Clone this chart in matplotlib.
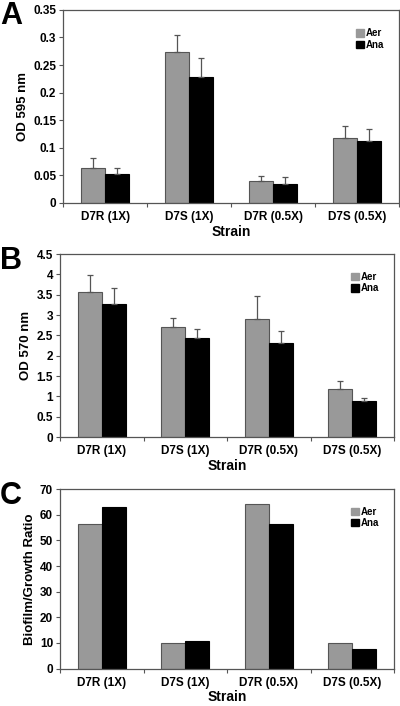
import numpy as np
import matplotlib
matplotlib.use("Agg")
import matplotlib.pyplot as plt
from matplotlib.patches import Patch

plt.rcParams['font.family'] = ['Liberation Sans', 'DejaVu Sans']
plt.rcParams['font.weight'] = 'bold'

strains = ["D7R (1X)", "D7S (1X)", "D7R (0.5X)", "D7S (0.5X)"]
series = ["Aer", "Ana"]

# panel A - OD 595 nm
a_aer = [0.064, 0.274, 0.040, 0.118]
a_ana = [0.053, 0.229, 0.035, 0.112]
a_aer_err = [0.018, 0.030, 0.009, 0.021]
a_ana_err = [0.010, 0.033, 0.012, 0.022]

# panel B - OD 570 nm
b_aer = [3.57, 2.71, 2.91, 1.18]
b_ana = [3.27, 2.43, 2.31, 0.89]
b_aer_err = [0.41, 0.23, 0.56, 0.21]
b_ana_err = [0.39, 0.22, 0.29, 0.06]

# panel C - biofilm/growth ratio
c_aer = [56.5, 10.0, 64.2, 10.0]
c_ana = [63.0, 10.8, 56.4, 7.8]

GRAY = "#999999"
EDGE = "#555555"

fig = plt.figure(figsize=(4.0, 7.06), dpi=100)

panels = [
    ("A", [0.158, 0.7125, 0.8395, 0.2735], a_aer, a_ana, a_aer_err, a_ana_err,
     "OD 595 nm", (0, 0.35), np.arange(0, 0.351, 0.05), ["0", "0.05", "0.1", "0.15", "0.2", "0.25", "0.3", "0.35"]),
    ("B", [0.15, 0.381, 0.835, 0.259], b_aer, b_ana, b_aer_err, b_ana_err,
     "OD 570 nm", (0, 4.5), np.arange(0, 4.51, 0.5), ["0", "0.5", "1", "1.5", "2", "2.5", "3", "3.5", "4", "4.5"]),
    ("C", [0.15, 0.053, 0.835, 0.254], c_aer, c_ana, None, None,
     "Biofilm/Growth Ratio", (0, 70), np.arange(0, 71, 10), [str(v) for v in range(0, 71, 10)]),
]

x = np.arange(len(strains))
w = 0.285

for letter, rect, aer, ana, aer_err, ana_err, ylabel, ylim, yt, ytl in panels:
    ax = fig.add_axes(rect)
    ax.bar(x - w / 2, aer, w, color=GRAY, edgecolor=EDGE, linewidth=0.8, label=series[0])
    ax.bar(x + w / 2, ana, w, color="black", edgecolor="black", linewidth=0.8, label=series[1])
    if aer_err is not None:
        ax.errorbar(x - w / 2, aer, yerr=[np.zeros(4), aer_err], fmt="none",
                    ecolor=EDGE, elinewidth=0.9, capsize=2, capthick=0.9)
        ax.errorbar(x + w / 2, ana, yerr=[np.zeros(4), ana_err], fmt="none",
                    ecolor=EDGE, elinewidth=0.9, capsize=2, capthick=0.9)
    ax.set_xlim(-0.5, 3.5)
    ax.set_ylim(*ylim)
    ax.set_yticks(yt)
    ax.set_yticklabels(ytl, fontsize=8.5, fontweight="bold")
    ax.set_xticks(x)
    ax.set_xticklabels(strains, fontsize=8.5, fontweight="bold")
    ax.tick_params(axis="x", length=0, pad=6)
    ax.set_xticks(np.arange(-0.5, 3.6, 1), minor=True)
    ax.tick_params(axis="x", which="minor", length=3, width=0.8, color=EDGE)
    ax.tick_params(axis="y", length=3, width=0.8, color=EDGE, pad=2)
    for s in ax.spines.values():
        s.set_color(EDGE)
        s.set_linewidth(0.9)
    ax.set_xlabel("Strain", fontsize=10, fontweight="bold", labelpad=1)
    ax.set_ylabel(ylabel, fontsize=9.5, fontweight="bold", labelpad=3)
    handles = [Patch(facecolor=GRAY, edgecolor=GRAY, label=series[0]),
               Patch(facecolor="black", edgecolor="black", label=series[1])]
    ax.legend(handles=handles, loc="upper right", bbox_to_anchor=(0.97, 0.93),
              fontsize=7, frameon=False, handlelength=0.8, handleheight=0.8,
              handletextpad=0.2, labelspacing=0.15, borderpad=0)
    fig.text(0.0, rect[1] + rect[3] + 0.012, letter, fontsize=22, fontweight="bold",
             ha="left", va="top")

fig.savefig("out.png", dpi=100)
